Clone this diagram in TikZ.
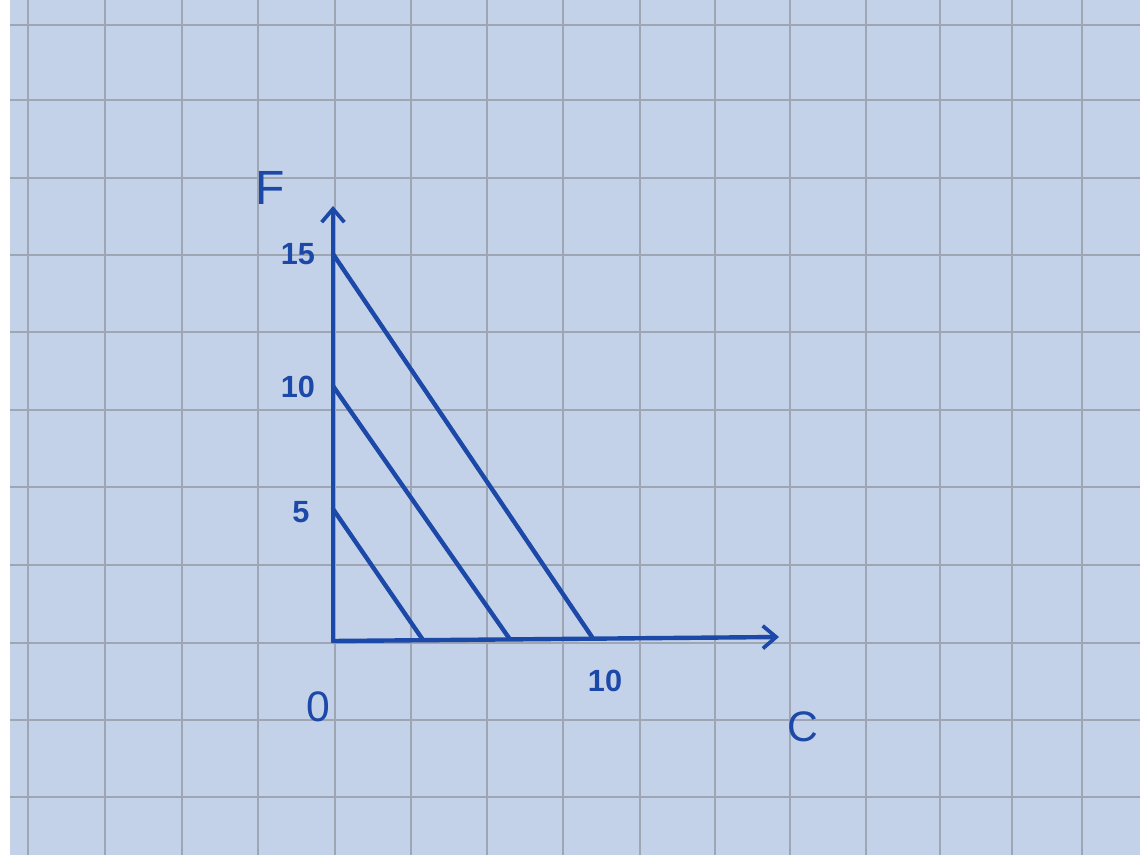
\documentclass[tikz,border=0pt]{standalone}
\usepackage{fontspec}
\setmainfont{Liberation Sans}
\usetikzlibrary{arrows.meta}
\definecolor{paper}{RGB}{196,210,233}
\definecolor{gridc}{RGB}{158,166,180}
\definecolor{ink}{RGB}{28,72,168}
\begin{document}
\begin{tikzpicture}[x=0.75pt,y=-0.75pt,
  inkline/.style={draw=ink, line width=3.3pt, line cap=round, line join=round},
  axisarrow/.style={inkline, -{Straight Barb[length=10pt,width=17pt,line width=2.8pt]}},
  ticklbl/.style={text=ink, font=\bfseries\fontsize{23}{25}\selectfont, inner sep=0pt},
  biglbl/.style={text=ink, font=\fontsize{32}{34}\selectfont, inner sep=0pt},
  gridline/.style={draw=gridc, line width=1.2pt}]
\useasboundingbox (0,0) rectangle (1140,860);
\fill[white] (0,0) rectangle (1140,860);
\fill[paper] (10,0) rectangle (1140,855);
\foreach \x in {28,105,182,258,335,411,487,563,640,715,790,866,940,1012,1082}
  \draw[gridline] (\x,0) -- (\x,855);
\foreach \y in {25,100,178,255,332,410,487,565,643,720,797}
  \draw[gridline] (10,\y) -- (1140,\y);
% points
\coordinate (O) at (333,641);
\coordinate (ytip) at (333,206);
\coordinate (xtip) at (779,637);
\coordinate (y15) at (333,254);
\coordinate (y10) at (333,386);
\coordinate (y5) at (333,509);
\coordinate (x15) at (592,637);
\coordinate (x10) at (509,638);
\coordinate (x5) at (423,640);
% axes
\draw[axisarrow] (O) -- (ytip);
\draw[axisarrow] (O) -- (xtip);
% budget lines
\draw[inkline] (y15) -- (x15);
\draw[inkline] (y10) -- (x10);
\draw[inkline] (y5) -- (x5);
% labels
\node[biglbl, font=\fontsize{36}{38}\selectfont] (F) at (270,188) {F};
\node[ticklbl] (l15) at (298,254) {15};
\node[ticklbl] (l10) at (298,387) {10};
\node[ticklbl] (l5) at (301,512) {5};
\node[biglbl] (l0) at (318,707) {0};
\node[ticklbl] (lx10) at (605,681) {10};
\node[biglbl] (C) at (803,727) {C};
\end{tikzpicture}
\end{document}
